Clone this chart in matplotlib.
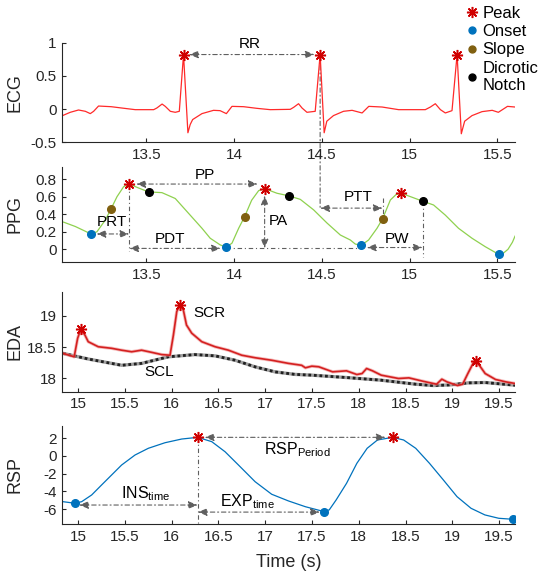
import matplotlib.pyplot as plt
from matplotlib.lines import Line2D
from matplotlib.patches import ConnectionPatch

plt.rcParams['font.family'] = ['Liberation Sans', 'DejaVu Sans']
plt.rcParams['mathtext.fontset'] = 'custom'
plt.rcParams['mathtext.rm'] = 'Liberation Sans'
plt.rcParams['mathtext.it'] = 'Liberation Sans:italic'
plt.rcParams['axes.unicode_minus'] = False

# ---------------- data ----------------
ecg_t = [13.023, 13.067, 13.114, 13.153, 13.181, 13.200, 13.228, 13.300, 13.360, 13.437,
         13.542, 13.560, 13.590, 13.608, 13.637, 13.665, 13.688, 13.712, 13.737, 13.750,
         13.764, 13.817, 13.883, 13.920, 13.956, 13.988, 14.054, 14.130, 14.206, 14.320,
         14.339, 14.367, 14.387, 14.415, 14.462, 14.490, 14.513, 14.528, 14.566, 14.623,
         14.672, 14.729, 14.767, 14.843, 14.937, 15.089, 15.118, 15.146, 15.175, 15.203,
         15.241, 15.270, 15.294, 15.313, 15.355, 15.412, 15.470, 15.505, 15.557, 15.600]
ecg_v = [-0.10, -0.05, -0.015, -0.035, -0.07, -0.035, 0.045, 0.035, 0.015, -0.01,
         -0.01, 0.015, 0.075, 0.04, -0.035, -0.05, -0.035, 0.825, -0.36, -0.235,
         -0.16, -0.07, -0.02, -0.025, -0.07, 0.04, 0.035, 0.01, -0.01, -0.005,
         0.025, 0.08, 0.015, -0.05, -0.035, 0.825, -0.36, -0.185, -0.10, -0.035,
         -0.02, -0.06, 0.04, 0.03, -0.01, -0.01, 0.03, 0.08, -0.01, -0.06,
         -0.025, 0.825, -0.375, -0.185, -0.10, -0.04, -0.02, -0.05, 0.04, 0.03]
ecg_peak_t = [13.712, 14.490, 15.270]
ecg_peak_v = [0.825, 0.825, 0.825]

ppg_t = [13.029, 13.096, 13.185, 13.219, 13.267, 13.300, 13.333, 13.371, 13.403, 13.456,
         13.513, 13.589, 13.665, 13.741, 13.817, 13.864, 13.921, 13.956, 13.988, 14.026,
         14.060, 14.100, 14.140, 14.174, 14.244, 14.313, 14.377, 14.453, 14.529, 14.605,
         14.662, 14.690, 14.724, 14.766, 14.814, 14.846, 14.890, 14.924, 14.951, 15.014,
         15.074, 15.136, 15.203, 15.278, 15.355, 15.430, 15.506, 15.530, 15.560, 15.585,
         15.600]
ppg_v = [0.31, 0.26, 0.175, 0.20, 0.335, 0.465, 0.60, 0.715, 0.745, 0.70,
         0.655, 0.647, 0.58, 0.41, 0.24, 0.126, 0.05, 0.023, 0.07, 0.24,
         0.373, 0.56, 0.67, 0.693, 0.64, 0.61, 0.57, 0.45, 0.30, 0.163,
         0.106, 0.06, 0.045, 0.106, 0.24, 0.35, 0.563, 0.628, 0.64, 0.594,
         0.549, 0.506, 0.39, 0.24, 0.126, 0.03, -0.057, -0.05, 0.0, 0.08,
         0.15]
ppg_peak_t = [13.403, 14.174, 14.951]
ppg_peak_v = [0.745, 0.693, 0.64]
ppg_onset_t = [13.185, 13.956, 14.724, 15.506]
ppg_onset_v = [0.175, 0.023, 0.045, -0.057]
ppg_slope_t = [13.300, 14.060, 14.846]
ppg_slope_v = [0.465, 0.373, 0.35]
ppg_notch_t = [13.513, 14.313, 15.074]
ppg_notch_v = [0.655, 0.61, 0.549]
ppg_base = 0.01
ptt_y = 0.47

eda_t = [14.840, 14.960, 14.997, 15.030, 15.075, 15.110, 15.217, 15.360, 15.467, 15.574,
         15.680, 15.790, 15.895, 15.984, 16.020, 16.056, 16.090, 16.126, 16.160, 16.216,
         16.323, 16.465, 16.608, 16.750, 16.893, 17.070, 17.250, 17.390, 17.430, 17.499,
         17.573, 17.721, 17.869, 17.980, 18.036, 18.084, 18.147, 18.240, 18.425, 18.536,
         18.684, 18.832, 18.888, 18.943, 19.055, 19.110, 19.166, 19.221, 19.250, 19.295,
         19.351, 19.462, 19.573, 19.673]
eda_v = [18.40, 18.345, 18.64, 18.78, 18.69, 18.585, 18.505, 18.48, 18.45, 18.425,
         18.45, 18.415, 18.38, 18.37, 18.69, 19.065, 19.17, 19.09, 18.85, 18.72,
         18.585, 18.505, 18.45, 18.37, 18.33, 18.29, 18.24, 18.21, 18.17, 18.196,
         18.186, 18.106, 18.122, 18.063, 18.079, 18.159, 18.122, 18.053, 18.00, 18.01,
         17.957, 17.909, 17.989, 17.946, 17.888, 17.909, 18.079, 18.239, 18.282, 18.196,
         18.079, 17.984, 17.946, 17.92]
eda_peak_t = [15.030, 16.090, 19.250]
eda_peak_v = [18.78, 19.17, 18.282]
scl_t = [14.840, 15.110, 15.467, 15.680, 15.966, 16.250, 16.465, 16.680, 16.893, 17.107,
         17.320, 17.499, 17.870, 18.240, 18.610, 18.795, 18.980, 19.166, 19.351, 19.673]
scl_v = [18.40, 18.31, 18.21, 18.24, 18.345, 18.38, 18.36, 18.29, 18.185, 18.105,
         18.065, 18.053, 18.015, 17.973, 17.909, 17.888, 17.898, 17.93, 17.936, 17.893]

rsp_t = [14.840, 14.968, 15.040, 15.147, 15.253, 15.360, 15.467, 15.610, 15.752, 15.930,
         16.109, 16.280, 16.430, 16.572, 16.715, 16.893, 17.070, 17.250, 17.430, 17.560,
         17.629, 17.685, 17.759, 17.870, 17.980, 18.090, 18.200, 18.361, 18.480, 18.609,
         18.756, 18.904, 19.050, 19.200, 19.348, 19.496, 19.644, 19.673]
rsp_v = [-5.17, -5.35, -5.17, -4.41, -3.28, -2.15, -1.02, 0.11, 0.87, 1.50,
         1.92, 2.11, 1.62, 0.48, -1.02, -2.91, -4.33, -5.09, -5.74, -6.10,
         -6.29, -6.10, -4.97, -3.09, -0.83, 0.87, 1.81, 2.11, 1.81, 0.87,
         -0.83, -2.71, -4.60, -5.92, -6.67, -7.05, -7.16, -7.17]
rsp_peak_t = [16.280, 18.361]
rsp_peak_v = [2.11, 2.11]
rsp_onset_t = [14.968, 17.629, 19.644]
rsp_onset_v = [-5.35, -6.29, -7.16]
ins_y = -5.55
exp_y = -6.35

# ---------------- styles ----------------
PEAK_C = '#D00000'
ONSET_C = '#0072BD'
SLOPE_C = '#806010'
GREY = '#5F5F5F'
AXC = '#262626'
DASH = (0, (4, 2.5, 1, 2.5))
PEAK_M = dict(marker=(8, 2, 0), ls='none', ms=8, mew=1.1, color=PEAK_C, zorder=5)
DOT = dict(marker='o', ls='none', ms=5.5, zorder=5)
FS = 11


def arrow(ax, x0, y0, x1, y1, sa=0, sb=0):
    ax.annotate('', xy=(x1, y1), xytext=(x0, y0), annotation_clip=False,
                arrowprops=dict(arrowstyle='<|-|>,head_length=0.55,head_width=0.22',
                                color=GREY, lw=0.8, linestyle=DASH,
                                shrinkA=sa, shrinkB=sb))


def vline(ax, x, y0, y1):
    ax.plot([x, x], [y0, y1], color=GREY, lw=0.8, linestyle=DASH, zorder=1)


def style(ax, xlim, ylim, xticks, yticks, ylabel):
    ax.set_xlim(xlim)
    ax.set_ylim(ylim)
    ax.set_xticks(xticks)
    ax.set_xticklabels([f'{v:g}' for v in xticks])
    ax.set_yticks(yticks)
    ax.set_yticklabels([f'{v:g}' for v in yticks])
    for s in ['top', 'right']:
        ax.spines[s].set_visible(False)
    for s in ['left', 'bottom']:
        ax.spines[s].set_color(AXC)
        ax.spines[s].set_linewidth(0.8)
    ax.tick_params(direction='in', length=3, width=0.8, colors=AXC, labelsize=FS, pad=4)
    ax.set_ylabel(ylabel, fontsize=13, color=AXC)
    ax.yaxis.set_label_coords(-0.085, 0.5)
    ax.patch.set_visible(False)


fig = plt.figure(figsize=(5.43, 5.74), dpi=100)
L, W = 0.1142, 0.8343
ax1 = fig.add_axes([L, 0.7526, W, 0.1725])
ax2 = fig.add_axes([L, 0.5436, W, 0.1655])
ax3 = fig.add_axes([L, 0.3176, W, 0.1742])
ax4 = fig.add_axes([L, 0.0866, W, 0.1718])

t_short = [13.5, 14, 14.5, 15, 15.5]
t_long = [15, 15.5, 16, 16.5, 17, 17.5, 18, 18.5, 19, 19.5]

# ECG
ax1.plot(ecg_t, ecg_v, color='#FF2A2A', lw=0.9)
ax1.plot(ecg_peak_t, ecg_peak_v, **PEAK_M)
arrow(ax1, ecg_peak_t[0], ecg_peak_v[0], ecg_peak_t[1], ecg_peak_v[1], 4, 4)
ax1.text(14.09, 0.99, 'RR', fontsize=FS, ha='center', va='center', clip_on=False)
style(ax1, (13.02, 15.60), (-0.5, 1.0), t_short, [-0.5, 0, 0.5, 1], 'ECG')

# PPG
ax2.plot(ppg_t, ppg_v, color='#8FD14F', lw=0.9)
ax2.plot(ppg_peak_t, ppg_peak_v, **PEAK_M)
ax2.plot(ppg_onset_t, ppg_onset_v, color=ONSET_C, **DOT)
ax2.plot(ppg_slope_t, ppg_slope_v, color=SLOPE_C, **DOT)
ax2.plot(ppg_notch_t, ppg_notch_v, color='black', **DOT)
# PRT / PDT / PP / PA / PTT / PW
vline(ax2, ppg_peak_t[0], ppg_peak_v[0], -0.02)
arrow(ax2, ppg_onset_t[0], ppg_onset_v[0], ppg_peak_t[0], ppg_onset_v[0], 4, 0)
arrow(ax2, ppg_peak_t[0], ppg_base, ppg_onset_t[1], ppg_base, 0, 4)
ax2.plot([ppg_onset_t[1], ppg_onset_t[2]], [ppg_base, ppg_base], color=GREY, lw=0.8,
         linestyle=DASH, zorder=1)
arrow(ax2, ppg_peak_t[0], ppg_peak_v[0], ppg_peak_t[1], ppg_peak_v[0], 5, 5)
arrow(ax2, ppg_peak_t[1], ppg_peak_v[1], ppg_peak_t[1], ppg_base, 5, 0)
arrow(ax2, ecg_peak_t[1], ptt_y, ppg_slope_t[2], ptt_y, 0, 0)
vline(ax2, ppg_slope_t[2], 0.58, ppg_slope_v[2])
arrow(ax2, ppg_onset_t[2], 0.02, ppg_notch_t[2], 0.02, 4, 0)
vline(ax2, ppg_notch_t[2], ppg_notch_v[2], -0.09)
ax2.text(13.305, 0.31, 'PRT', fontsize=FS, ha='center', va='center')
ax2.text(13.637, 0.12, 'PDT', fontsize=FS, ha='center', va='center')
ax2.text(13.832, 0.85, 'PP', fontsize=FS, ha='center', va='center')
ax2.text(14.253, 0.32, 'PA', fontsize=FS, ha='center', va='center')
ax2.text(14.704, 0.60, 'PTT', fontsize=FS, ha='center', va='center')
ax2.text(14.928, 0.12, 'PW', fontsize=FS, ha='center', va='center')
style(ax2, (13.02, 15.60), (-0.145, 0.94), t_short, [0, 0.2, 0.4, 0.6, 0.8], 'PPG')

con = ConnectionPatch(xyA=(ecg_peak_t[1], ecg_peak_v[1]), coordsA=ax1.transData,
                      xyB=(ecg_peak_t[1], ptt_y), coordsB=ax2.transData,
                      color=GREY, lw=0.8, linestyle=DASH, zorder=-1)
fig.add_artist(con)

# EDA
ax3.plot(scl_t, scl_v, color='#A0A0A0', lw=2.4, solid_capstyle='butt')
ax3.plot(scl_t, scl_v, color='#202020', lw=2.0, linestyle=(0, (1, 1)))
ax3.plot(eda_t, eda_v, color='#F09090', lw=2.4, alpha=0.6)
ax3.plot(eda_t, eda_v, color='#D42020', lw=1.2)
ax3.plot(eda_peak_t, eda_peak_v, **PEAK_M)
ax3.text(16.40, 19.04, 'SCR', fontsize=FS, ha='center', va='center')
ax3.text(15.866, 18.10, 'SCL', fontsize=FS, ha='center', va='center')
style(ax3, (14.83, 19.67), (17.79, 19.38), t_long, [18, 18.5, 19], 'EDA')

# RSP
ax4.plot(rsp_t, rsp_v, color=ONSET_C, lw=0.9)
ax4.plot(rsp_peak_t, rsp_peak_v, **PEAK_M)
ax4.plot(rsp_onset_t, rsp_onset_v, color=ONSET_C, **DOT)
arrow(ax4, rsp_peak_t[0], rsp_peak_v[0], rsp_peak_t[1], rsp_peak_v[1], 5, 5)
vline(ax4, rsp_peak_t[0], rsp_peak_v[0], -7.73)
arrow(ax4, rsp_onset_t[0], ins_y, rsp_peak_t[0], ins_y, 3, 0)
arrow(ax4, rsp_peak_t[0], exp_y, rsp_onset_t[1], exp_y, 0, 3)
ax4.text(17.34, 0.2, r'RSP$_{\mathrm{Period}}$', fontsize=FS + 0.5, ha='center', va='baseline')
ax4.text(15.72, -4.79, r'INS$_{\mathrm{time}}$', fontsize=FS + 0.5, ha='center', va='baseline')
ax4.text(16.81, -5.74, r'EXP$_{\mathrm{time}}$', fontsize=FS + 0.5, ha='center', va='baseline')
style(ax4, (14.83, 19.67), (-7.73, 3.43), t_long, [-6, -4, -2, 0, 2], 'RSP')
ax4.set_xlabel('Time (s)', fontsize=13, color=AXC, labelpad=7)

# legend
handles = [Line2D([], [], marker=(8, 2, 0), ls='none', ms=8, mew=1.1, color=PEAK_C),
           Line2D([], [], marker='o', ls='none', ms=5, color=ONSET_C),
           Line2D([], [], marker='o', ls='none', ms=5, color=SLOPE_C),
           Line2D([], [], marker='o', ls='none', ms=5, color='black')]
labels = ['Peak', 'Onset', 'Slope', 'Dicrotic\nNotch']
fig.legend(handles, labels, loc='upper left', bbox_to_anchor=(0.858, 0.99), frameon=False,
           fontsize=12, handlelength=0.7, handletextpad=0.3, labelspacing=0.2,
           borderpad=0, borderaxespad=0)

fig.savefig('out.png', dpi=100)
